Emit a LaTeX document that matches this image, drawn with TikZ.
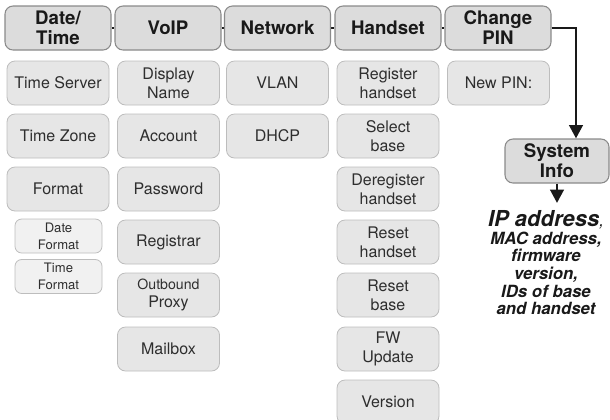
\documentclass[tikz,border=0pt]{standalone}
\usepackage{fontspec}
\setmainfont{TeX Gyre Heros}
\usetikzlibrary{arrows.meta}
\pgfdeclarelayer{bg}
\pgfsetlayers{bg,main}
\definecolor{hdrfill}{HTML}{DCDCDC}
\definecolor{hdrline}{HTML}{8A8A8A}
\definecolor{itemfill}{HTML}{E6E6E6}
\definecolor{itemline}{HTML}{BDBDBD}
\definecolor{subfill}{HTML}{F1F1F1}
\definecolor{textgray}{HTML}{2E2E2E}

\begin{document}
\begin{tikzpicture}[x=0.75pt,y=-0.75pt,
        hdr/.style={draw=hdrline,fill=hdrfill,rounded corners=6pt,line width=0.8pt,
                minimum width=79.5pt,minimum height=33pt,inner sep=0pt,align=center,
                text=black!90,font=\fontsize{14}{15}\selectfont\bfseries},
        item/.style={draw=itemline,fill=itemfill,rounded corners=6pt,line width=0.6pt,
                minimum width=76.5pt,minimum height=33pt,inner sep=0pt,align=center,
                text=textgray,font=\fontsize{12}{14}\selectfont},
        sub/.style={item,fill=subfill,rounded corners=5pt,minimum width=65.25pt,
                minimum height=25.5pt,font=\fontsize{9.8}{12.5}\selectfont},
        link/.style={line width=2.2pt,black!90},
        arr/.style={link,-{Triangle[width=10pt,length=10pt]}}]
        \useasboundingbox (0,0) rectangle (610,419);
        % top row
        \node (h1) [hdr] at (58,28) {Date/\\Time};
        \node (h2) [hdr] at (168,28) {VoIP};
        \node (h3) [hdr] at (277.5,28) {Network};
        \node (h4) [hdr] at (388,28) {Handset};
        \node (h5) [hdr] at (498,28) {Change\\PIN};
        \node (si) [hdr,minimum width=78pt] at (557,161) {System\\Info};
        % Date/Time
        \node (a1) [item] at (58,83) {Time Server};
        \node (a2) [item] at (58,136) {Time Zone};
        \node (a3) [item] at (58,189) {Format};
        \node (a4) [sub] at (58.5,236) {Date\\Format};
        \node (a5) [sub] at (58.5,276.5) {Time\\Format};
        % VoIP
        \node (b1) [item] at (168.5,83) {Display\\Name};
        \node (b2) [item] at (168.5,136) {Account};
        \node (b3) [item] at (168.5,189) {Password};
        \node (b4) [item] at (168.5,242) {Registrar};
        \node (b5) [item] at (168.5,295) {{\fontsize{10.6}{12}\selectfont Outbound}\\Proxy};
        \node (b6) [item] at (168.5,349) {Mailbox};
        % Network
        \node (c1) [item] at (277.5,83) {VLAN};
        \node (c2) [item] at (277.5,136) {DHCP};
        % Handset
        \node (d1) [item] at (388,83) {Register\\handset};
        \node (d2) [item] at (388,136) {Select\\base};
        \node (d3) [item] at (388,189) {Deregister\\handset};
        \node (d4) [item] at (388,242) {Reset\\handset};
        \node (d5) [item] at (388,295) {Reset\\base};
        \node (d6) [item] at (388,349) {FW\\Update};
        \node (d7) [item] at (388,402) {Version};
        % Change PIN
        \node (e1) [item] at (498.5,83) {New PIN:};
        % System Info details
        \node (info) [anchor=north,align=center,inner sep=0pt,text=black!90,
                font=\fontsize{12.6}{13.3}\selectfont\bfseries\itshape] at (546,210)
                {{\fontsize{16.5}{17}\selectfont IP address}{\mdseries,}\\MAC address,\\firmware\\version,\\IDs of base\\and handset};
        \coordinate (bend) at (576,28);
        \coordinate (tip) at (557,203);
        \begin{pgfonlayer}{bg}
                \draw [link] (h1) -- (h2);
                \draw [link] (h2) -- (h3);
                \draw [link] (h3) -- (h4);
                \draw [link] (h4) -- (h5);
        \end{pgfonlayer}
        \draw [arr] (h5.east) -- (bend) -- (bend |- si.north);
        \draw [arr] (si.south) -- (tip);
\end{tikzpicture}
\end{document}
